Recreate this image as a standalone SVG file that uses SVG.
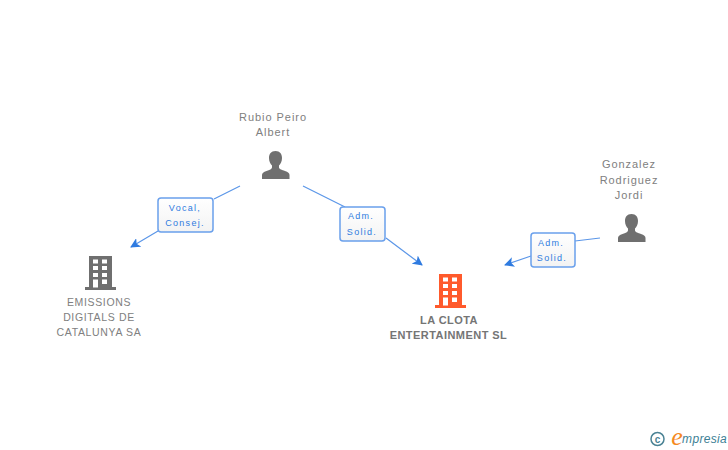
<svg xmlns="http://www.w3.org/2000/svg" width="728" height="450" viewBox="0 0 728 450">
<style>
text{font-family:"Liberation Sans",Arial,sans-serif;text-anchor:middle}
.n{font-size:11px;fill:#808080;letter-spacing:.95px}
.s{font-size:10.500px;fill:#808080;letter-spacing:.65px}
.b{font-size:11px;fill:#757575;font-weight:bold;letter-spacing:.45px}
.l{font-size:9px;fill:#2f7be0;letter-spacing:1.3px}
.c{fill:none;stroke:#5b96e8;stroke-width:1.200}
.lb{fill:url(#g);stroke:#6aa0ec;stroke-width:1.500}
.w{fill:#fff}
</style>
<defs>
<linearGradient id="g" x1="0" y1="0" x2="0" y2="1"><stop offset="0" stop-color="#fff"/><stop offset="1" stop-color="#f3f3f3"/></linearGradient>
<marker id="a" markerWidth="11" markerHeight="10" refX="9" refY="5" orient="auto" markerUnits="userSpaceOnUse"><path d="M0 0L10 5L0 10L2.500 5Z" fill="#2f7be0"/></marker>
<symbol id="person" viewBox="0 0 28 28" overflow="visible"><path d="M14 0c4.500 0 6.500 3 6.500 7c0 3.500-1.500 6-3 7.500v2c0 1.500 3 2.500 6 3.500c3 1 4.500 2 4.500 4v4H0.500v-4c0-2 1.500-3 4.500-4c3-1 5.500-2 5.500-3.500v-2c-1.500-1.500-3-4-3-7.500c0-4 2-7 6.500-7z" fill="#6f6f6f"/></symbol>
<symbol id="bld" viewBox="0 0 32 34" overflow="visible">
<path d="M4 0H27V31H31V34H0V31H4Z" fill="currentColor"/>
<g class="w"><rect x="8" y="3.500" width="5" height="4"/><rect x="17" y="3.500" width="5" height="4"/><rect x="8" y="10" width="5" height="4"/><rect x="17" y="10" width="5" height="4"/><rect x="8" y="17" width="5" height="4"/><rect x="17" y="17" width="5" height="4"/><rect x="8" y="23.500" width="5" height="8"/><rect x="17" y="23.500" width="5" height="4.500"/></g>
</symbol>
</defs>
<g id="connectors">
<path class="c" d="M240 186L214 199M158 231L131 247" marker-end="url(#a)"/>
<path class="c" d="M303 186L345 207M386 238L422 265" marker-end="url(#a)"/>
<path class="c" d="M600 238L575 241M531 256L505 265" marker-end="url(#a)"/>
</g>
<g id="label-vocal"><rect class="lb" x="158" y="198" width="55" height="34" rx="3"/><text class="l" x="185" y="211">Vocal,</text><text class="l" x="185" y="226">Consej.</text></g>
<g id="label-adm1"><rect class="lb" x="340" y="207" width="45" height="34" rx="3"/><text class="l" x="361" y="219">Adm.</text><text class="l" x="362" y="235">Solid.</text></g>
<g id="label-adm2"><rect class="lb" x="531" y="233" width="44" height="34" rx="3"/><text class="l" x="551" y="246">Adm.</text><text class="l" x="552" y="261">Solid.</text></g>
<g id="node-rubio"><text class="n" x="273" y="121">Rubio Peiro</text><text class="n" x="273" y="136">Albert</text><use href="#person" x="261.500" y="151" width="28" height="28"/></g>
<g id="node-gonzalez"><text class="n" x="629" y="168">Gonzalez</text><text class="n" x="629" y="184">Rodriguez</text><text class="n" x="629" y="199">Jordi</text><use href="#person" x="617.500" y="214" width="28" height="28"/></g>
<g id="node-emissions"><use href="#bld" x="85" y="256" width="32" height="34" color="#6f6f6f"/><text class="s" x="99" y="306">EMISSIONS</text><text class="s" x="99" y="321">DIGITALS DE</text><text class="s" x="99" y="336">CATALUNYA SA</text></g>
<g id="node-clota"><use href="#bld" x="435" y="274" width="32" height="34" color="#ff5a2c"/><text class="b" x="449" y="324">LA CLOTA</text><text class="b" x="448.500" y="339">ENTERTAINMENT SL</text></g>
<g id="brand"><circle cx="657.500" cy="439" r="6.500" fill="none" stroke="#4a8294" stroke-width="1.500"/><text x="657.500" y="442.500" style="font-size:10px;fill:#4a8294;font-weight:bold">c</text><text x="677" y="445" style="font-family:'Liberation Serif',serif;font-style:italic;font-size:26px;fill:#f58a1f">e</text><text x="704.500" y="443" style="font-style:italic;font-size:12px;fill:#3d7f95;letter-spacing:.3px">mpresia</text></g>
</svg>
